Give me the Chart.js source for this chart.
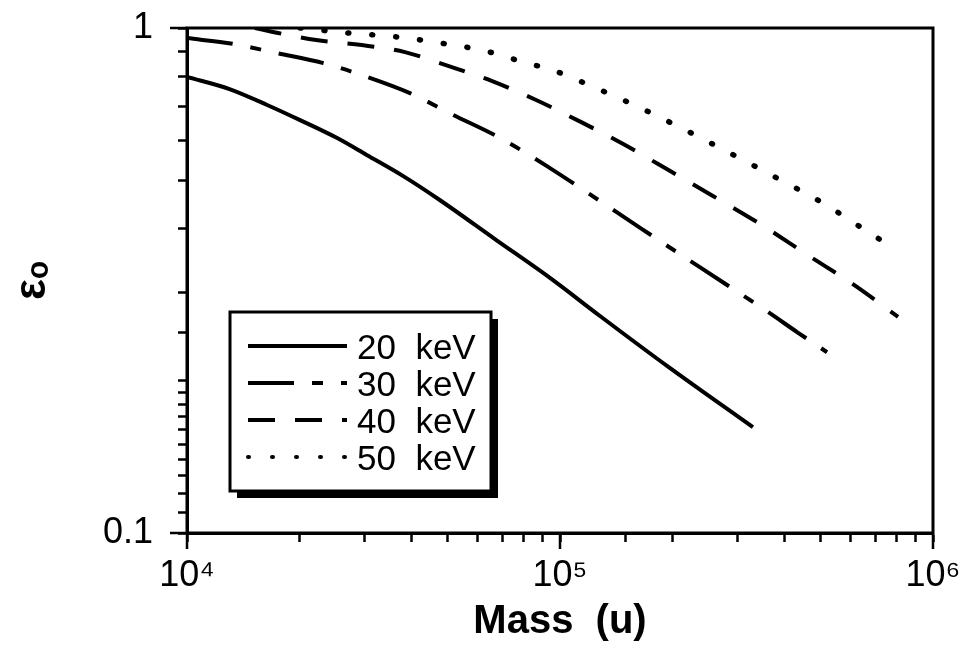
<!DOCTYPE html>
<html>
<head>
<meta charset="utf-8">
<script src="https://cdn.jsdelivr.net/npm/chart.js@4.4.0/dist/chart.umd.min.js"></script>
<style>
html, body { margin: 0; padding: 0; background: #fff; }
#wrap { width: 965px; height: 646px; position: relative; }
</style>
</head>
<body>
<div id="wrap"><canvas id="mainChart"></canvas></div>
<script>
// series names
var seriesLabels = ['20  keV', '30  keV', '40  keV', '50  keV'];

// mass (u) and epsilon values
var mass20 = [1.00e4, 1.30e4, 1.64e4, 2.01e4, 2.52e4, 3.04e4, 3.80e4, 4.77e4, 6.69e4, 9.40e4, 1.28e5, 1.94e5, 3.29e5];
var eps20  = [0.800, 0.757, 0.704, 0.657, 0.606, 0.560, 0.509, 0.456, 0.382, 0.320, 0.269, 0.214, 0.162];

var mass30 = [1.00e4, 1.33e4, 1.74e4, 2.32e4, 3.04e4, 3.96e4, 5.17e4, 6.90e4, 9.40e4, 1.19e5, 1.64e5, 2.37e5, 3.61e5, 4.32e5, 5.20e5];
var eps30  = [0.955, 0.930, 0.892, 0.852, 0.800, 0.743, 0.673, 0.606, 0.528, 0.471, 0.402, 0.336, 0.274, 0.250, 0.228];

var mass40 = [1.52e4, 1.81e4, 2.22e4, 2.94e4, 3.84e4, 5.01e4, 6.58e4, 8.63e4, 1.14e5, 1.49e5, 1.99e5, 2.57e5, 3.48e5, 4.62e5, 6.14e5, 8.06e5];
var eps40  = [1.000, 0.973, 0.947, 0.925, 0.896, 0.841, 0.785, 0.720, 0.651, 0.587, 0.519, 0.465, 0.407, 0.355, 0.310, 0.268];

var mass50 = [2.01e4, 2.73e4, 3.66e4, 4.77e4, 6.29e4, 8.16e4, 9.52e4, 1.23e5, 1.62e5, 2.14e5, 2.86e5, 3.77e5, 5.07e5, 6.65e5, 7.77e5];
var eps50  = [1.000, 0.977, 0.960, 0.934, 0.901, 0.852, 0.826, 0.764, 0.698, 0.631, 0.565, 0.507, 0.450, 0.396, 0.368];

// labelled ticks
var xTickValues = [1e4, 1e5, 1e6];
var xTickLabels = ['10\u2074', '10\u2075', '10\u2076'];
var yTickValues = [0.1, 1];
var yTickLabels = ['0.1', '1'];

var fontFamily = '"Liberation Sans", Arial, Helvetica, sans-serif';

function pts(xs, ys) {
    return xs.map(function (x, i) { return { x: x, y: ys[i] }; });
}

function labelFor(value, values, labels) {
    for (var i = 0; i < values.length; i++) {
        if (Math.abs(Math.log10(value) - Math.log10(values[i])) < 1e-6) return labels[i];
    }
    return '';
}

function isMajor(value, values) {
    return labelFor(value, values, values.map(function () { return 'x'; })) !== '';
}

// box round the plot and the longer decade ticks
var framePlugin = {
    id: 'frame',
    afterDatasetsDraw: function (chart) {
        var c = chart.ctx, a = chart.chartArea;
        var xs = chart.scales.x, ys = chart.scales.y;
        c.save();
        c.strokeStyle = '#000';
        c.lineWidth = 3;
        c.strokeRect(a.left, a.top, a.right - a.left, a.bottom - a.top);
        c.lineWidth = 2.5;
        c.beginPath();
        xs.ticks.forEach(function (t) {
            if (isMajor(t.value, xTickValues)) {
                var px = xs.getPixelForValue(t.value);
                c.moveTo(px, a.bottom);
                c.lineTo(px, a.bottom + 16);
            }
        });
        ys.ticks.forEach(function (t) {
            if (isMajor(t.value, yTickValues)) {
                var py = ys.getPixelForValue(t.value);
                c.moveTo(a.left, py);
                c.lineTo(a.left - 17, py);
            }
        });
        c.stroke();
        c.restore();
    }
};

// boxed legend with drop shadow inside the plot
var legendBoxPlugin = {
    id: 'legendBox',
    afterDraw: function (chart) {
        var c = chart.ctx, a = chart.chartArea;
        var bx = a.left + 43, by = a.top + 284, bw = 261, bh = 179;
        c.save();
        c.fillStyle = '#000';
        c.fillRect(bx + 7, by + 7, bw, bh);
        c.fillStyle = '#fff';
        c.fillRect(bx, by, bw, bh);
        c.strokeStyle = '#000';
        c.lineWidth = 3;
        c.strokeRect(bx, by, bw, bh);

        chart.data.datasets.forEach(function (ds, i) {
            var ry = by + 34 + i * 37;
            c.beginPath();
            c.lineWidth = Math.min(ds.borderWidth, 4);
            c.lineCap = ds.borderCapStyle || 'butt';
            c.setLineDash(ds.borderDash || []);
            c.moveTo(bx + 18, ry);
            c.lineTo(bx + 117, ry);
            c.stroke();
            c.setLineDash([]);
            c.fillStyle = '#000';
            c.font = '35px ' + fontFamily;
            c.textBaseline = 'middle';
            c.textAlign = 'left';
            c.fillText(ds.label, bx + 127, ry + 3);
        });
        c.restore();
    }
};

var ctx = document.getElementById('mainChart').getContext('2d');
var chart = new Chart(ctx, {
    type: 'line',
    data: {
        datasets: [{
            label: seriesLabels[0],
            data: pts(mass20, eps20),
            borderColor: '#000',
            borderWidth: 4,
            borderDash: []
        }, {
            label: seriesLabels[1],
            data: pts(mass30, eps30),
            borderColor: '#000',
            borderWidth: 4,
            borderDash: [46, 18, 11, 18]
        }, {
            label: seriesLabels[2],
            data: pts(mass40, eps40),
            borderColor: '#000',
            borderWidth: 4,
            borderDash: [27, 20]
        }, {
            label: seriesLabels[3],
            data: pts(mass50, eps50),
            borderColor: '#000',
            borderWidth: 5.5,
            borderCapStyle: 'round',
            borderDash: [1, 23]
        }]
    },
    options: {
        responsive: true,
        maintainAspectRatio: false,
        animation: false,
        layout: { padding: { left: 0, right: 32, top: 28, bottom: 0 } },
        elements: {
            point: { radius: 0 },
            line: { cubicInterpolationMode: 'monotone', fill: false }
        },
        plugins: {
            legend: { display: false },
            tooltip: { enabled: false }
        },
        scales: {
            x: {
                type: 'logarithmic',
                min: 1e4,
                max: 1e6,
                afterFit: function (s) {
                    s.height = 113;
                    s.paddingLeft = 0;
                    s.paddingRight = 0;
                },
                border: { display: true, color: '#000', width: 3 },
                grid: { drawOnChartArea: false, drawTicks: true, tickLength: 9, tickWidth: 2.5, tickColor: '#000' },
                ticks: {
                    autoSkip: false,
                    maxRotation: 0,
                    padding: 12,
                    color: '#000',
                    font: { family: fontFamily, size: 36 },
                    callback: function (v) { return labelFor(v, xTickValues, xTickLabels); }
                },
                title: {
                    display: true,
                    text: 'Mass  (u)',
                    color: '#000',
                    padding: { top: 0, bottom: 0 },
                    font: { family: fontFamily, size: 40, weight: 'bold' }
                }
            },
            y: {
                type: 'logarithmic',
                min: 0.1,
                max: 1,
                afterFit: function (s) {
                    s.width = 187;
                    s.paddingTop = 0;
                    s.paddingBottom = 0;
                },
                border: { display: true, color: '#000', width: 3 },
                grid: { drawOnChartArea: false, drawTicks: true, tickLength: 9, tickWidth: 2.5, tickColor: '#000' },
                ticks: {
                    autoSkip: false,
                    padding: 25,
                    color: '#000',
                    font: { family: fontFamily, size: 36 },
                    callback: function (v) { return labelFor(v, yTickValues, yTickLabels); }
                },
                title: {
                    display: true,
                    text: '\u03b5\u2092',
                    color: '#000',
                    padding: { top: 6, bottom: 0 },
                    font: { family: fontFamily, size: 44, weight: 'bold' }
                }
            }
        }
    },
    plugins: [framePlugin, legendBoxPlugin]
});
</script>
</body>
</html>
